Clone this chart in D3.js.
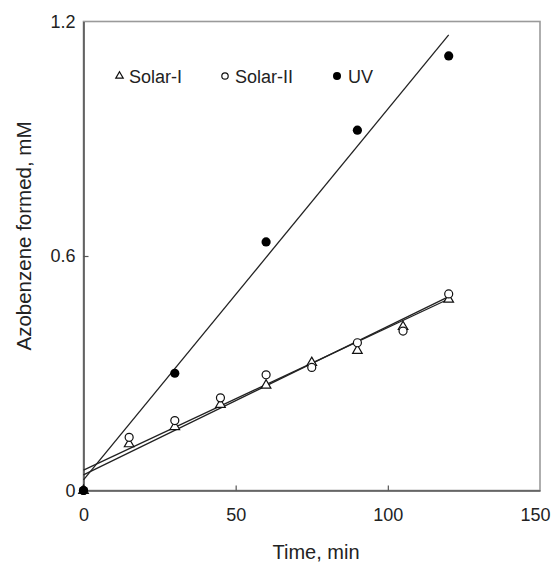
<!DOCTYPE html>
<html>
<head>
<meta charset="utf-8">
<script src="https://cdn.jsdelivr.net/npm/d3@7"></script>
<style>
  html, body { margin: 0; padding: 0; background: #fff; }
  svg { display: block; font-family: "Liberation Sans", Arial, sans-serif; }
</style>
</head>
<body>
<svg id="chart" width="554" height="564"></svg>
<script>
// Azobenzene formation over time under solar and UV irradiation.
'use strict';

var SERIES_NAMES = ['Solar-I', 'Solar-II', 'UV'];
var SOLAR_TIMES = [0, 15, 30, 45, 60, 75, 90, 105, 120];
var SOLAR_I = [0, 0.119, 0.163, 0.220, 0.269, 0.327, 0.358, 0.419, 0.489];
var SOLAR_II = [0, 0.136, 0.179, 0.237, 0.296, 0.315, 0.378, 0.408, 0.503];
var UV_TIMES = [0, 30, 60, 90, 120];
var UV = [0, 0.300, 0.636, 0.922, 1.112];
// linear fits: [intercept, slope]
var FIT_SOLAR_I = [0.040, 0.00380];
var FIT_SOLAR_II = [0.052, 0.00365];
var FIT_UV = [0.027, 0.00949];
var FIT_RANGE = [0, 120];
var X_TICKS = [0, 50, 100, 150];
var Y_TICKS = [0, 0.6, 1.2];

(function draw() {
  var svg = d3.select('#chart');
  var left = 83.5, right = 540, top = 21.5, bottom = 490.5;
  var x = d3.scaleLinear().domain([0, 150]).range([left, right]);
  var y = d3.scaleLinear().domain([0, 1.2]).range([bottom, top]);

  // frame (top and right in light grey)
  svg.append('rect')
    .attr('x', left).attr('y', top)
    .attr('width', right - left).attr('height', bottom - top)
    .style('fill', 'none').style('stroke', '#9a9a9a').style('stroke-width', 1.6);

  var xAxis = svg.append('g')
    .attr('transform', 'translate(0,' + bottom + ')')
    .call(d3.axisBottom(x).tickValues(X_TICKS).tickSizeInner(-5).tickSizeOuter(0).tickPadding(18).tickFormat(d3.format('d')));
  var yAxis = svg.append('g')
    .attr('transform', 'translate(' + left + ',0)')
    .call(d3.axisLeft(y).tickValues(Y_TICKS).tickSizeInner(-5).tickSizeOuter(0).tickPadding(8)
      .tickFormat(function (d) { return d === 0 ? '0' : d3.format('.1f')(d); }));

  [xAxis, yAxis].forEach(function (g) {
    g.select('.domain').style('stroke', '#555').style('stroke-width', 1.6);
    g.selectAll('.tick line').style('stroke', '#555').style('stroke-width', 1.2);
    g.selectAll('.tick text')
      .style('font-family', '"Liberation Sans", Arial, sans-serif')
      .style('font-size', '18px').style('fill', '#222');
  });
  xAxis.selectAll('.tick line').filter(function (d) { return d === 0 || d === 150; }).remove();
  yAxis.selectAll('.tick line').filter(function (d) { return d === 0 || d === 1.2; }).remove();
  // last x label sits slightly inward so it stays inside the picture
  xAxis.selectAll('.tick text').filter(function (d) { return d === 150; }).attr('dx', -5);

  // axis titles
  svg.append('text')
    .attr('x', 316).attr('y', 559)
    .attr('text-anchor', 'middle')
    .style('font-size', '20px').style('fill', '#222')
    .text('Time, min');
  svg.append('text')
    .attr('transform', 'translate(31,236) rotate(-90)')
    .attr('text-anchor', 'middle')
    .style('font-size', '20.5px').style('fill', '#222')
    .text('Azobenzene formed, mM');

  // fitted lines
  [FIT_UV, FIT_SOLAR_I, FIT_SOLAR_II].forEach(function (fit) {
    svg.append('line')
      .attr('x1', x(FIT_RANGE[0])).attr('y1', y(fit[0] + fit[1] * FIT_RANGE[0]))
      .attr('x2', x(FIT_RANGE[1])).attr('y2', y(fit[0] + fit[1] * FIT_RANGE[1]))
      .style('stroke', '#222').style('stroke-width', 1.3);
  });

  var tri = d3.symbol().type(d3.symbolTriangle).size(40);

  // Solar-I triangles
  SOLAR_TIMES.forEach(function (t, i) {
    svg.append('path')
      .attr('d', tri())
      .attr('transform', 'translate(' + x(t) + ',' + y(SOLAR_I[i]) + ')')
      .style('fill', '#fff').style('stroke', '#111').style('stroke-width', 1.2);
  });
  // Solar-II open circles
  SOLAR_TIMES.forEach(function (t, i) {
    svg.append('circle')
      .attr('cx', x(t)).attr('cy', y(SOLAR_II[i])).attr('r', 4)
      .style('fill', '#fff').style('stroke', '#111').style('stroke-width', 1.2);
  });
  // UV filled circles
  UV_TIMES.forEach(function (t, i) {
    svg.append('circle')
      .attr('cx', x(t)).attr('cy', y(UV[i])).attr('r', 4.6)
      .style('fill', '#000');
  });

  // legend
  var legendY = 76;
  var legendItems = [
    { name: SERIES_NAMES[0], mx: 119.5, tx: 129 },
    { name: SERIES_NAMES[1], mx: 225, tx: 235 },
    { name: SERIES_NAMES[2], mx: 337, tx: 348 }
  ];
  legendItems.forEach(function (item, i) {
    if (i === 0) {
      svg.append('path')
        .attr('d', d3.symbol().type(d3.symbolTriangle).size(24)())
        .attr('transform', 'translate(' + item.mx + ',' + legendY + ')')
        .style('fill', '#fff').style('stroke', '#111').style('stroke-width', 1.2);
    } else if (i === 1) {
      svg.append('circle')
        .attr('cx', item.mx).attr('cy', legendY).attr('r', 3.2)
        .style('fill', '#fff').style('stroke', '#111').style('stroke-width', 1.2);
    } else {
      svg.append('circle')
        .attr('cx', item.mx).attr('cy', legendY).attr('r', 4)
        .style('fill', '#000');
    }
    svg.append('text')
      .attr('x', item.tx).attr('y', legendY + 6.5)
      .style('font-size', '18px').style('fill', '#222')
      .text(item.name);
  });
}());
</script>
</body>
</html>
